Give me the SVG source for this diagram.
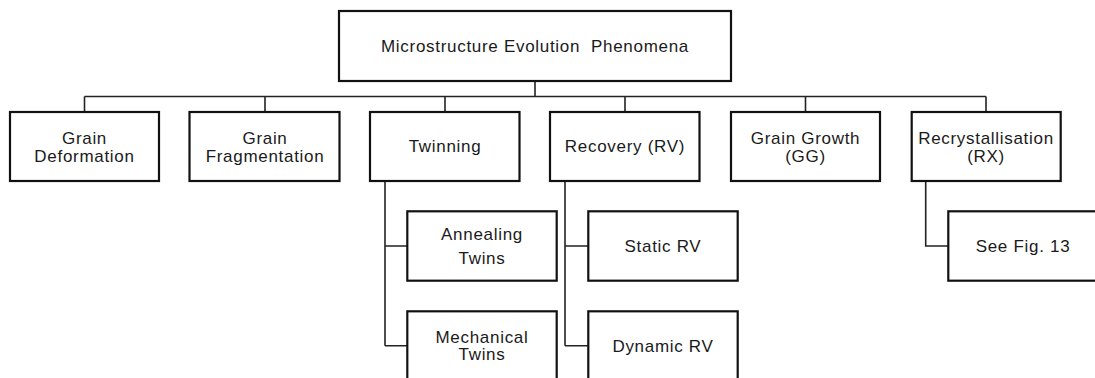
<svg xmlns="http://www.w3.org/2000/svg" width="1095" height="378" viewBox="0 0 1095 378">
  <style>
    .box { fill: #ffffff; stroke: #111111; stroke-width: 2.2; }
    .link { fill: none; stroke: #222222; stroke-width: 1.6; }
    text { font-family: "Liberation Sans", Arial, sans-serif; font-size: 17px; letter-spacing: 0.7px; fill: #1a1a1a; text-anchor: middle; }
  </style>
  <rect width="1095" height="378" fill="#ffffff"/>

  <!-- tree connectors -->
  <g id="connectors">
    <path class="link" d="M535,81 V96.5 M84.5,96.5 H986 M84.5,96.5 V112 M265,96.5 V112 M445,96.5 V112 M625,96.5 V112 M805.5,96.5 V112 M986,96.5 V112"/>
    <path class="link" d="M385,181 V345.7 M385,246 H407.3 M385,345.7 H407.3"/>
    <path class="link" d="M565,181 V345.7 M565,246 H588.3 M565,345.7 H588.3"/>
    <path class="link" d="M925.7,181 V246 H948.3"/>
  </g>

  <g id="root">
    <rect class="box" x="339" y="11" width="392" height="70"/>
    <text x="535" y="52">Microstructure Evolution&#160; Phenomena</text>
  </g>

  <g id="grain-deformation">
    <rect class="box" x="10" y="112" width="149" height="69"/>
    <text x="84.5" y="143.5">Grain</text>
    <text x="84.5" y="161.5">Deformation</text>
  </g>

  <g id="grain-fragmentation">
    <rect class="box" x="189.5" y="112" width="150" height="69"/>
    <text x="265" y="143.5">Grain</text>
    <text x="265" y="161.5">Fragmentation</text>
  </g>

  <g id="twinning">
    <rect class="box" x="370" y="112" width="149.5" height="69"/>
    <text x="445" y="151.5">Twinning</text>
  </g>

  <g id="recovery">
    <rect class="box" x="550" y="112" width="149.5" height="69"/>
    <text x="625" y="151.5">Recovery (RV)</text>
  </g>

  <g id="grain-growth">
    <rect class="box" x="731" y="112" width="149" height="69"/>
    <text x="805.5" y="143.5">Grain Growth</text>
    <text x="805.5" y="161.5">(GG)</text>
  </g>

  <g id="recrystallisation">
    <rect class="box" x="911.7" y="112" width="149" height="69"/>
    <text x="986" y="143.5">Recrystallisation</text>
    <text x="986" y="161.5">(RX)</text>
  </g>

  <g id="annealing-twins">
    <rect class="box" x="407.3" y="211.3" width="149.4" height="69.4"/>
    <text x="482" y="240">Annealing</text>
    <text x="482" y="264.3">Twins</text>
  </g>

  <g id="mechanical-twins">
    <rect class="box" x="407.3" y="311.3" width="149.4" height="69.4"/>
    <text x="482" y="342.7">Mechanical</text>
    <text x="482" y="360">Twins</text>
  </g>

  <g id="static-rv">
    <rect class="box" x="588.3" y="211.3" width="149.4" height="69.4"/>
    <text x="663" y="251.7">Static RV</text>
  </g>

  <g id="dynamic-rv">
    <rect class="box" x="588.3" y="311.3" width="149.4" height="69.4"/>
    <text x="663" y="351.7">Dynamic RV</text>
  </g>

  <g id="see-fig-13">
    <rect class="box" x="948.3" y="211.3" width="149" height="69.4"/>
    <text x="1023" y="251.7">See Fig. 13</text>
  </g>
</svg>
